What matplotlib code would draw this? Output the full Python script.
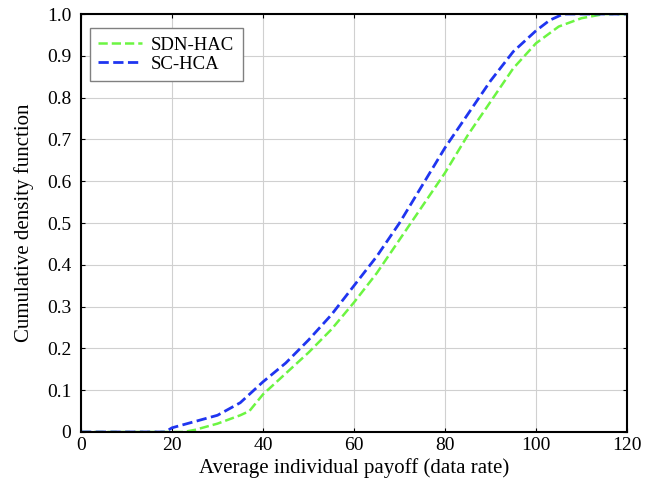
import matplotlib
matplotlib.use("Agg")
import matplotlib.pyplot as plt

plt.rcParams['font.family'] = ['Liberation Serif', 'DejaVu Serif']

# data
x_sdn = [0, 22.5, 25, 30, 35, 37, 40, 45, 50, 55, 60, 65, 70, 75, 80, 85, 90, 95, 100, 105, 110, 115, 120]
y_sdn = [0, 0, 0.005, 0.02, 0.04, 0.05, 0.09, 0.14, 0.19, 0.245, 0.31, 0.38, 0.46, 0.54, 0.62, 0.71, 0.79, 0.87, 0.93, 0.97, 0.99, 1.0, 1.0]
x_sc = [0, 18.5, 20, 25, 30, 35, 40, 45, 50, 55, 60, 65, 70, 75, 80, 85, 90, 95, 100, 103, 106, 120]
y_sc = [0, 0, 0.01, 0.025, 0.04, 0.07, 0.12, 0.165, 0.22, 0.28, 0.35, 0.42, 0.50, 0.59, 0.68, 0.76, 0.84, 0.91, 0.96, 0.985, 1.0, 1.0]

xticks = [0, 20, 40, 60, 80, 100, 120]
yticks = [0, 0.1, 0.2, 0.3, 0.4, 0.5, 0.6, 0.7, 0.8, 0.9, 1.0]
ylabels = ['0', '0.1', '0.2', '0.3', '0.4', '0.5', '0.6', '0.7', '0.8', '0.9', '1.0']

fig = plt.figure(figsize=(6.5, 4.83), dpi=100)
ax = fig.add_axes([0.1246, 0.1056, 0.84, 0.8654])

ax.plot(x_sdn, y_sdn, '--', color='#6cf542', lw=1.8, label='SDN-HAC')
ax.plot(x_sc, y_sc, '--', color='#1f35f0', lw=2.0, label='SC-HCA')

ax.set_xlim(0, 120)
ax.set_ylim(0, 1.0)
ax.set_xticks(xticks)
ax.set_yticks(yticks)
ax.set_yticklabels(ylabels)
ax.tick_params(direction='in', length=3, labelsize=14, top=True, right=True, width=0.8)
ax.tick_params(axis='y', pad=7)
ax.grid(True, color='#d0d0d0', lw=0.8)
for s in ax.spines.values():
    s.set_linewidth(1.5)

ax.set_xlabel('Average individual payoff (data rate)', fontsize=15, labelpad=3)
ax.set_ylabel('Cumulative density function', fontsize=15, labelpad=9)

leg = ax.legend(loc='upper left', bbox_to_anchor=(0.0165, 0.9665), borderaxespad=0,
                fontsize=13.5, fancybox=False, framealpha=1, edgecolor='#808080',
                handlelength=2.3, handletextpad=0.5, borderpad=0.45, labelspacing=0.1)
leg.get_frame().set_linewidth(1.0)

fig.savefig('out.png', dpi=100)
